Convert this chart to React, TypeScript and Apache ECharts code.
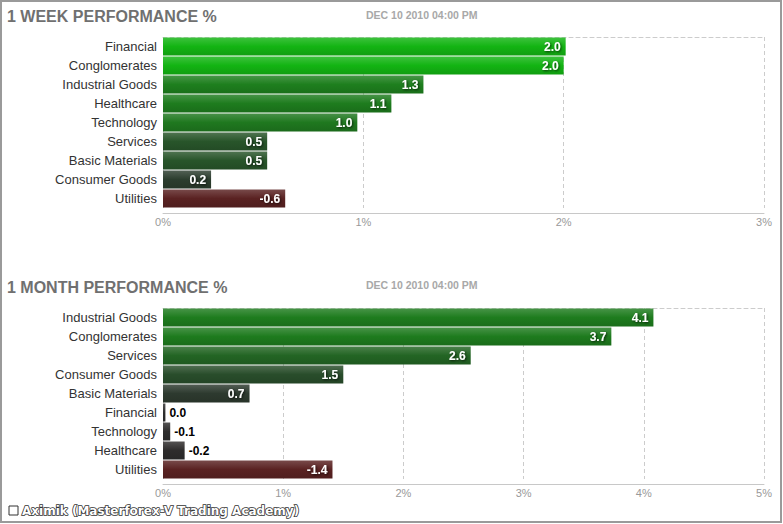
import React, { useEffect, useRef } from "react";
import * as echarts from "echarts";

const WEEK_TITLE = "1 WEEK PERFORMANCE %";
const MONTH_TITLE = "1 MONTH PERFORMANCE %";
const DATE_TEXT = "DEC 10 2010 04:00 PM";
const FOOTER_TEXT = "Aximik (Masterforex-V Trading Academy)";

const WEEK_CATEGORIES = ["Financial", "Conglomerates", "Industrial Goods", "Healthcare", "Technology", "Services", "Basic Materials", "Consumer Goods", "Utilities"];
const WEEK_VALUES = [2.01, 2.0, 1.3, 1.14, 0.97, 0.52, 0.52, 0.24, -0.61];
const WEEK_MAX = 3;

const MONTH_CATEGORIES = ["Industrial Goods", "Conglomerates", "Services", "Consumer Goods", "Basic Materials", "Financial", "Technology", "Healthcare", "Utilities"];
const MONTH_VALUES = [4.08, 3.73, 2.56, 1.5, 0.72, 0.02, -0.06, -0.18, -1.41];
const MONTH_MAX = 5;

const FONT = "'Liberation Sans', Arial, sans-serif";

function hexToRgb(h: string): number[] {
  const s = h.replace("#", "");
  return [0, 2, 4].map((i) => parseInt(s.slice(i, i + 2), 16));
}
function rgbToHex(c: number[]): string {
  return "#" + c.map((v) => Math.max(0, Math.min(255, Math.round(v))).toString(16).padStart(2, "0")).join("");
}
function mix(a: string, b: string, t: number): string {
  const A = hexToRgb(a);
  const B = hexToRgb(b);
  return rgbToHex(A.map((v, i) => v + (B[i] - v) * t));
}

const STOPS: [number, string][] = [
  [-0.4, "#5a2222"],
  [-0.12, "#2f2a2a"],
  [0, "#2e2e2e"],
  [0.2, "#2d3a2f"],
  [0.5, "#28532a"],
  [1.0, "#1e7a1e"],
  [1.4, "#1e801e"],
  [1.8, "#13b413"],
];

function baseColor(n: number): string {
  if (n <= STOPS[0][0]) return STOPS[0][1];
  for (let i = 1; i < STOPS.length; i++) {
    if (n <= STOPS[i][0]) {
      const [x0, c0] = STOPS[i - 1];
      const [x1, c1] = STOPS[i];
      return mix(c0, c1, (n - x0) / (x1 - x0));
    }
  }
  return STOPS[STOPS.length - 1][1];
}

function barFill(v: number, scale: number) {
  const base = baseColor(v / scale);
  return new echarts.graphic.LinearGradient(0, 0, 0, 1, [
    { offset: 0, color: mix(base, "#ffffff", 0.18) },
    { offset: 0.5, color: base },
    { offset: 1, color: mix(base, "#000000", 0.12) },
  ]);
}

function makeData(values: number[], scale: number, pxPerUnit: number) {
  return values.map((v) => {
    const inside = Math.abs(v) * pxPerUnit > 30;
    return {
      value: Math.abs(v),
      itemStyle: { color: barFill(v, scale) },
      label: inside
        ? {
            show: true,
            position: "insideRight",
            distance: 5,
            color: "#ffffff",
            fontWeight: "bold",
            fontSize: 12,
            fontFamily: FONT,
            textShadowColor: "rgba(0,0,0,0.7)",
            textShadowBlur: 2,
            textShadowOffsetX: 1,
            textShadowOffsetY: 1,
            formatter: () => v.toFixed(1),
          }
        : {
            show: true,
            position: "right",
            distance: 4,
            color: "#000000",
            fontWeight: "bold",
            fontSize: 12,
            fontFamily: FONT,
            formatter: () => v.toFixed(1),
          },
    };
  });
}

export default function App() {
  const ref = useRef<HTMLDivElement>(null);

  useEffect(() => {
    if (!ref.current) return;
    const chart = echarts.init(ref.current, null, { renderer: "svg" });

    const gridLeft = 163;
    const gridWidth = 601;
    const grids = [
      { left: gridLeft, top: 37, width: gridWidth, height: 171 },
      { left: gridLeft, top: 308, width: gridWidth, height: 171 },
    ];

    const bottomAxis = (gridIndex: number, max: number) => ({
      type: "value",
      gridIndex,
      min: 0,
      max,
      interval: 1,
      offset: 5,
      axisLine: { show: true, lineStyle: { color: "#c8c8c8", width: 1 } },
      axisTick: { show: false },
      axisLabel: { color: "#999999", fontSize: 11, fontFamily: FONT, margin: 3, formatter: "{value}%" },
      splitLine: { show: true, lineStyle: { color: "#cccccc", type: [4, 3], width: 1 } },
    });
    const topAxis = (gridIndex: number, max: number) => ({
      type: "value",
      gridIndex,
      position: "top",
      min: 0,
      max,
      interval: 1,
      axisLine: { show: true, lineStyle: { color: "#cccccc", type: [4, 3], width: 1 } },
      axisTick: { show: false },
      axisLabel: { show: false },
      splitLine: { show: false },
    });
    const catAxis = (gridIndex: number, data: string[]) => ({
      type: "category",
      gridIndex,
      data,
      inverse: true,
      axisLine: { show: false },
      axisTick: { show: false },
      axisLabel: { color: "#333333", fontSize: 13, fontFamily: FONT, margin: 6 },
      splitLine: { show: false },
    });

    const titleCommon = { padding: 0 };
    const dateStyle = { color: "#a8a8a8", fontSize: 10.5, fontWeight: "bold", fontFamily: FONT };
    const titleStyle = { color: "#707070", fontSize: 16, fontWeight: "bold", fontFamily: FONT };

    chart.setOption({
      animation: false,
      backgroundColor: "#ffffff",
      title: [
        { ...titleCommon, text: WEEK_TITLE, left: 7, top: 8, textStyle: titleStyle },
        { ...titleCommon, text: DATE_TEXT, left: 366, top: 9, textStyle: dateStyle },
        { ...titleCommon, text: MONTH_TITLE, left: 7, top: 279, textStyle: titleStyle },
        { ...titleCommon, text: DATE_TEXT, left: 366, top: 279, textStyle: dateStyle },
      ],
      grid: grids,
      xAxis: [bottomAxis(0, WEEK_MAX), topAxis(0, WEEK_MAX), bottomAxis(1, MONTH_MAX), topAxis(1, MONTH_MAX)],
      yAxis: [catAxis(0, WEEK_CATEGORIES), catAxis(1, MONTH_CATEGORIES)],
      series: [
        {
          type: "bar",
          xAxisIndex: 0,
          yAxisIndex: 0,
          barWidth: 18,
          data: makeData(WEEK_VALUES, 1, gridWidth / WEEK_MAX),
        },
        {
          type: "bar",
          xAxisIndex: 2,
          yAxisIndex: 1,
          barWidth: 18,
          data: makeData(MONTH_VALUES, 3.5, gridWidth / MONTH_MAX),
        },
      ],
      graphic: [
        {
          type: "rect",
          shape: { x: 1, y: 1, width: 780, height: 521 },
          style: { fill: "none", stroke: "#9a9a9a", lineWidth: 2 },
          silent: true,
        },
        {
          type: "rect",
          shape: { x: 9, y: 506, width: 9, height: 9 },
          style: { fill: "#ffffff", stroke: "#333333", lineWidth: 1 },
          silent: true,
        },
        {
          type: "text",
          x: 22,
          y: 511,
          style: {
            text: FOOTER_TEXT,
            fontFamily: "'DejaVu Sans', Verdana, sans-serif",
            fontSize: 12,
            fontWeight: "bold",
            fill: "#ffffff",
            stroke: "#333333",
            lineWidth: 1.6,
            verticalAlign: "middle",
          },
          silent: true,
        },
      ],
    });

    return () => chart.dispose();
  }, []);

  return <div ref={ref} style={{ position: "absolute", left: 0, top: 0, width: 783, height: 524 }} />;
}
